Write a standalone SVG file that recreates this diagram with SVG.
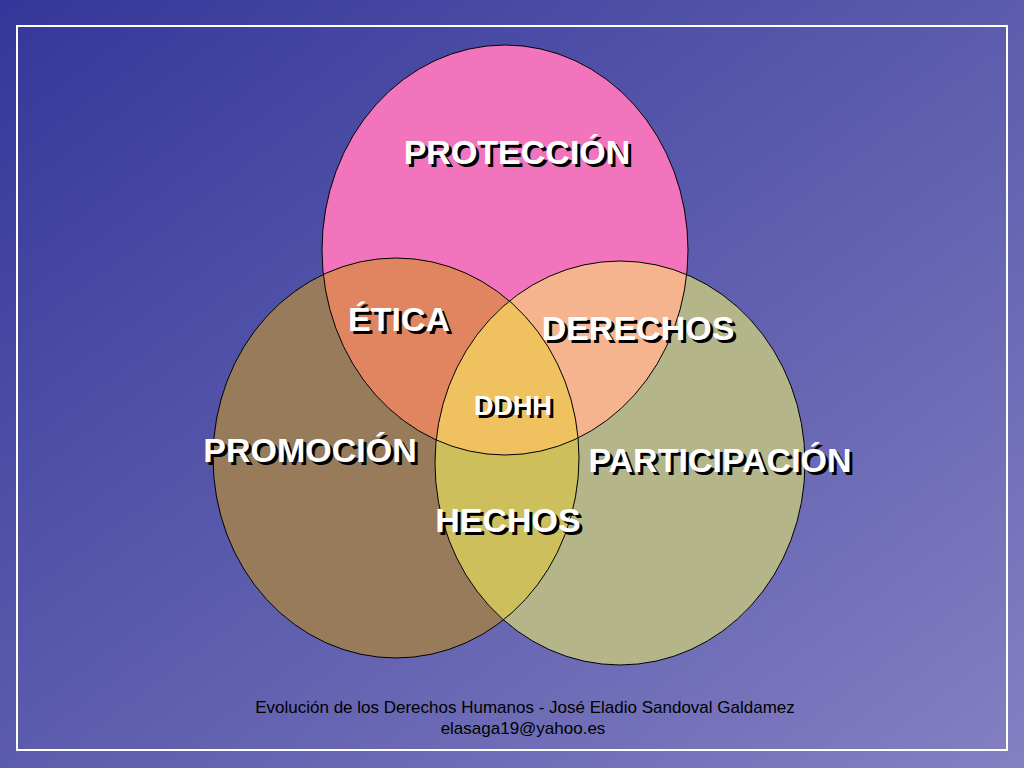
<svg xmlns="http://www.w3.org/2000/svg" width="1024" height="768" viewBox="0 0 1024 768">
<defs>
<linearGradient id="bg" x1="0" y1="0" x2="1" y2="1">
<stop offset="0" stop-color="#343799"/><stop offset="1" stop-color="#8480C2"/>
</linearGradient>
<ellipse id="eT" cx="505" cy="250" rx="183" ry="205"/>
<ellipse id="eL" cx="396" cy="458" rx="183" ry="200"/>
<ellipse id="eR" cx="620" cy="463" rx="185" ry="202"/>
<clipPath id="cT"><use href="#eT"/></clipPath>
<clipPath id="cL"><use href="#eL"/></clipPath>
<clipPath id="cR"><use href="#eR"/></clipPath>
<style>
.lb{font-family:"Liberation Sans",Arial,sans-serif;font-weight:bold;font-size:34px;text-anchor:middle}
.sh{fill:#000}
.fg{fill:#fff}
.ol{fill:none;stroke:#000;stroke-width:1}
.ft{font-family:"Liberation Sans",Arial,sans-serif;font-size:17px;fill:#000;text-anchor:middle}
</style>
</defs>
<rect width="1024" height="768" fill="url(#bg)"/>
<rect x="17" y="26" width="990" height="724" fill="none" stroke="#fff" stroke-width="2"/>
<g id="circles">
<use href="#eT" fill="#F274BC"/>
<use href="#eL" fill="#977B5A"/>
<use href="#eR" fill="#B5B58A"/>
<g clip-path="url(#cT)"><use href="#eL" fill="#E0855F"/><use href="#eR" fill="#F5B48E"/></g>
<g clip-path="url(#cL)"><use href="#eR" fill="#CDBF5C"/></g>
<g clip-path="url(#cT)"><g clip-path="url(#cL)"><use href="#eR" fill="#EFC25F"/></g></g>
<use href="#eT" class="ol"/>
<use href="#eL" class="ol"/>
<use href="#eR" class="ol"/>
</g>
<g id="labels" class="lb">
<text class="sh" x="520" y="167">PROTECCIÓN</text><text class="fg" x="517" y="164">PROTECCIÓN</text>
<text class="sh" x="402" y="334">ÉTICA</text><text class="fg" x="399" y="331">ÉTICA</text>
<text class="sh" x="641" y="343">DERECHOS</text><text class="fg" x="638" y="340">DERECHOS</text>
<text class="sh" x="516" y="418" style="font-size:27px">DDHH</text><text class="fg" x="513" y="415" style="font-size:27px">DDHH</text>
<text class="sh" x="313" y="465">PROMOCIÓN</text><text class="fg" x="310" y="462">PROMOCIÓN</text>
<text class="sh" x="723" y="475">PARTICIPACIÓN</text><text class="fg" x="720" y="472">PARTICIPACIÓN</text>
<text class="sh" x="511" y="535">HECHOS</text><text class="fg" x="508" y="532">HECHOS</text>
</g>
<g id="footer">
<text class="ft" x="525" y="713">Evolución de los Derechos Humanos - José Eladio Sandoval Galdamez</text>
<text class="ft" x="523" y="734">elasaga19@yahoo.es</text>
</g>
</svg>
